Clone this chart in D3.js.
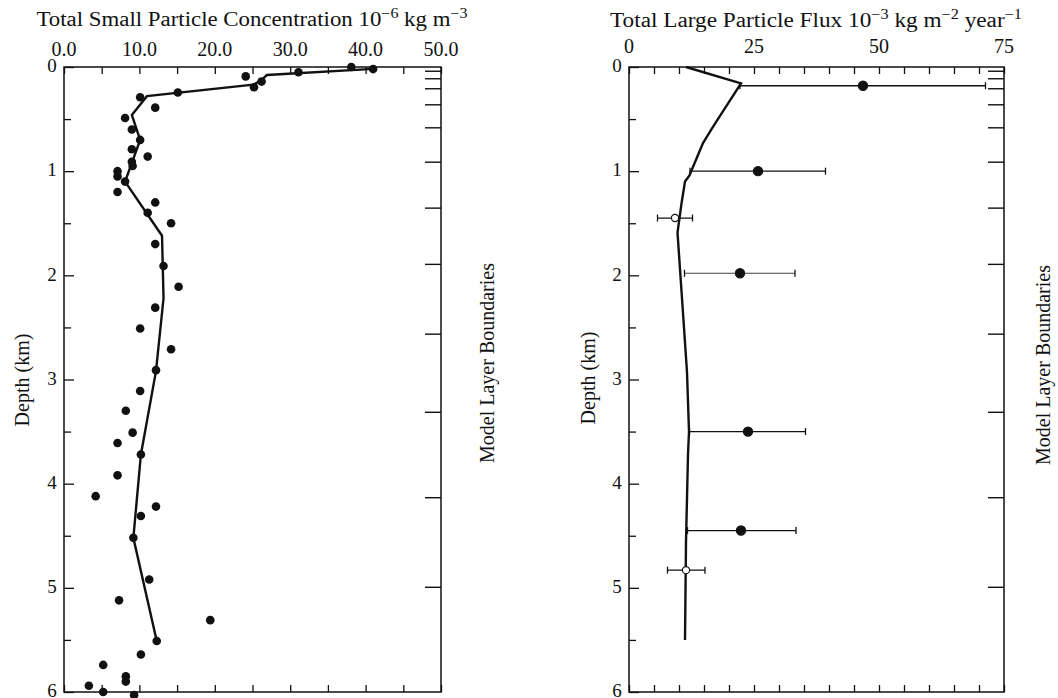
<!DOCTYPE html>
<html>
<head>
<meta charset="utf-8">
<script src="https://cdn.jsdelivr.net/npm/d3@7"></script>
<style>
  body { margin: 0; background: #fff; }
  text { font-family: "Liberation Serif", "Times New Roman", serif; fill: #111; }
</style>
</head>
<body>
<svg id="chart" width="1058" height="698"></svg>
<script>
// model layer boundaries (km), shared by both panels
var layerBounds = [0.036, 0.108, 0.204, 0.358, 0.579, 0.909, 1.35, 1.89, 2.56, 3.31, 4.13, 4.99];

// small particle concentration observations
var smallDepth = [0.0, 0.02, 0.05, 0.09, 0.14, 0.195, 0.245, 0.29, 0.39, 0.49, 0.60, 0.70, 0.79, 0.86,
  0.91, 0.95, 1.0, 1.05, 1.10, 1.20, 1.30, 1.40, 1.50, 1.70, 1.91, 2.11, 2.31, 2.51, 2.71, 2.91,
  3.11, 3.30, 3.51, 3.61, 3.72, 3.92, 4.12, 4.22, 4.31, 4.52, 4.92, 5.12, 5.31, 5.51, 5.64, 5.74,
  5.85, 5.90, 5.94, 6.0, 6.03];
var smallConc = [38.1, 41.0, 31.1, 24.1, 26.2, 25.2, 15.1, 10.1, 12.1, 8.1, 9.0, 10.1, 9.0, 11.1,
  9.0, 9.1, 7.1, 7.1, 8.1, 7.1, 12.1, 11.1, 14.2, 12.1, 13.2, 15.2, 12.1, 10.1, 14.2, 12.2,
  10.1, 8.2, 9.1, 7.1, 10.2, 7.1, 4.2, 12.2, 10.2, 9.2, 11.3, 7.3, 19.4, 12.3, 10.2, 5.2,
  8.2, 8.2, 3.3, 5.2, 9.3];

// small particle model profile
var smallModelDepth = [0.018, 0.077, 0.125, 0.17, 0.28, 0.46, 0.70, 1.10, 1.62, 2.22, 2.92, 3.72, 4.52, 5.51];
var smallModelConc = [41.0, 26.9, 26.2, 25.1, 11.0, 9.0, 10.1, 8.1, 13.0, 13.2, 12.2, 10.2, 9.2, 12.3];

// large particle flux model profile
var largeModelDepth = [0.0, 0.157, 0.47, 0.59, 0.73, 1.04, 1.10, 1.31, 1.59, 2.22, 2.93, 3.50, 3.72, 4.56, 5.5];
var largeModelFlux = [11.4, 22.4, 18.2, 16.6, 14.8, 12.1, 11.2, 10.5, 9.7, 10.6, 11.6, 12.0, 11.8, 11.4, 11.2];

// sediment trap fluxes with ranges
var fluxDepth = [0.18, 1.0, 1.45, 1.98, 3.5, 4.45, 4.83];
var fluxValue = [46.8, 25.8, 9.2, 22.2, 23.8, 22.4, 11.4];
var fluxLow = [22.2, 12.2, 5.7, 11.1, 12.1, 11.7, 7.7];
var fluxHigh = [71.3, 39.3, 12.7, 33.2, 35.3, 33.4, 15.2];
var fluxFilled = [true, true, false, true, true, true, false];

var depthTicks = [0, 1, 2, 3, 4, 5, 6];
var smallTicks = [0, 10, 20, 30, 40, 50];
var largeTicks = [0, 25, 50, 75];

var svg = d3.select("#chart");
var top0 = 67, bottom0 = 692;

function range(a, b, s) { return d3.range(a, b + s / 2, s); }

// draws frame, ticks and labels for one panel
function drawFrame(g, x, y, majors, minorStep, fmt, labelY, yLabelX) {
  var x0 = x.range()[0], x1 = x.range()[1];

  g.append("g")
    .attr("transform", "translate(0," + top0 + ")")
    .call(d3.axisTop(x).tickValues(range(x.domain()[0], x.domain()[1], minorStep)).tickSize(-7).tickFormat(""))
    .call(function(a) { a.select(".domain").remove(); a.selectAll("line").attr("stroke", "#111").attr("stroke-width", 1.3); });

  g.append("g")
    .attr("transform", "translate(0," + bottom0 + ")")
    .call(d3.axisBottom(x).tickValues(range(x.domain()[0], x.domain()[1], minorStep)).tickSize(-7).tickFormat(""))
    .call(function(a) { a.select(".domain").remove(); a.selectAll("line").attr("stroke", "#111").attr("stroke-width", 1.3); });

  // top tick labels
  g.selectAll(".xlab").data(majors).enter().append("text")
    .attr("class", "xlab")
    .attr("x", function(d) { return x(d); })
    .attr("y", labelY)
    .attr("text-anchor", "middle")
    .style("font-size", "20px")
    .text(fmt);

  // depth ticks, inward
  g.append("g")
    .attr("transform", "translate(" + x0 + ",0)")
    .call(d3.axisLeft(y).tickValues(range(0, 6, 0.5)).tickSize(-7).tickFormat(""))
    .call(function(a) {
      a.select(".domain").remove();
      a.selectAll("line").attr("stroke", "#111").attr("stroke-width", 1.3)
        .attr("x2", function(d) { return d % 1 === 0 ? 10 : 7; });
    });

  g.selectAll(".ylab").data(depthTicks).enter().append("text")
    .attr("class", "ylab")
    .attr("x", yLabelX)
    .attr("y", function(d) { return y(d); })
    .attr("dy", "0.28em")
    .attr("text-anchor", "middle")
    .style("font-size", "19px")
    .text(function(d) { return d; });

  // model layer boundaries on the right edge
  g.append("g")
    .attr("transform", "translate(" + x1 + ",0)")
    .call(d3.axisRight(y).tickValues(layerBounds).tickSize(-16).tickFormat(""))
    .call(function(a) { a.select(".domain").remove(); a.selectAll("line").attr("stroke", "#111").attr("stroke-width", 1.4); });

  g.append("rect")
    .attr("x", x0).attr("y", top0)
    .attr("width", x1 - x0).attr("height", bottom0 - top0)
    .attr("fill", "none").attr("stroke", "#111").attr("stroke-width", 1.5);
}

function title(g, cx, yy, width, parts) {
  var t = g.append("text")
    .attr("x", cx).attr("y", yy)
    .attr("text-anchor", "middle")
    .style("font-size", "20px");
  parts.forEach(function(p) {
    var s = t.append("tspan").text(p[0]);
    if (p[1] === "sup") s.attr("dy", -8).style("font-size", "14px");
    if (p[1] === "back") s.attr("dy", 8);
  });
  t.attr("textLength", width).attr("lengthAdjust", "spacingAndGlyphs");
}

function sideLabel(g, cx, cy, txt) {
  g.append("text")
    .attr("transform", "translate(" + cx + "," + cy + ") rotate(-90)")
    .attr("text-anchor", "middle")
    .attr("dy", "0.35em")
    .style("font-size", "20px")
    .text(txt);
}

// ---- left panel: small particles ----
var xSmall = d3.scaleLinear().domain([0, 50]).range([64, 441]);
var ySmall = d3.scaleLinear().domain([0, 6]).range([top0, bottom0]);
var left = svg.append("g");

drawFrame(left, xSmall, ySmall, smallTicks, 5, function(d) { return d3.format(".1f")(d); }, 56, 52);
title(left, 252, 26, 431, [["Total Small Particle Concentration 10"], ["\u22126", "sup"], [" kg m", "back"], ["\u22123", "sup"]]);
sideLabel(left, 22, 380, "Depth (km)");
sideLabel(left, 487, 363, "Model Layer Boundaries");

var smallLine = d3.line()
  .x(function(d, i) { return xSmall(smallModelConc[i]); })
  .y(function(d) { return ySmall(d); });

left.append("path")
  .datum(smallModelDepth)
  .attr("d", smallLine)
  .attr("fill", "none").attr("stroke", "#111").attr("stroke-width", 2.4);

left.selectAll(".obs").data(smallDepth).enter().append("circle")
  .attr("class", "obs")
  .attr("cx", function(d, i) { return xSmall(smallConc[i]); })
  .attr("cy", function(d) { return ySmall(d); })
  .attr("r", 4.3)
  .attr("fill", "#111");

// ---- right panel: large particle flux ----
var xLarge = d3.scaleLinear().domain([0, 75]).range([629, 1004]);
var yLarge = d3.scaleLinear().domain([0, 6]).range([top0, bottom0]);
var right = svg.append("g");

drawFrame(right, xLarge, yLarge, largeTicks, 5, function(d) { return d; }, 53, 617);
title(right, 816, 27, 412, [["Total Large Particle Flux 10"], ["\u22123", "sup"], [" kg m", "back"], ["\u22122", "sup"], [" year", "back"], ["\u22121", "sup"]]);
sideLabel(right, 588, 378, "Depth (km)");
sideLabel(right, 1043, 365, "Model Layer Boundaries");

var largeLine = d3.line()
  .x(function(d, i) { return xLarge(largeModelFlux[i]); })
  .y(function(d) { return yLarge(d); });

right.append("path")
  .datum(largeModelDepth)
  .attr("d", largeLine)
  .attr("fill", "none").attr("stroke", "#111").attr("stroke-width", 2.4);

var bars = right.selectAll(".bar").data(fluxDepth).enter().append("g").attr("class", "bar");
bars.append("line")
  .attr("x1", function(d, i) { return xLarge(fluxLow[i]); })
  .attr("x2", function(d, i) { return xLarge(fluxHigh[i]); })
  .attr("y1", function(d) { return yLarge(d); })
  .attr("y2", function(d) { return yLarge(d); })
  .attr("stroke", "#111").attr("stroke-width", function(d) { return d === 1.98 ? 0.8 : 1.3; });
[fluxLow, fluxHigh].forEach(function(arr) {
  bars.append("line")
    .attr("x1", function(d, i) { return xLarge(arr[i]); })
    .attr("x2", function(d, i) { return xLarge(arr[i]); })
    .attr("y1", function(d) { return yLarge(d) - 3.5; })
    .attr("y2", function(d) { return yLarge(d) + 3.5; })
    .attr("stroke", "#111").attr("stroke-width", 1.3);
});
bars.append("circle")
  .attr("cx", function(d, i) { return xLarge(fluxValue[i]); })
  .attr("cy", function(d) { return yLarge(d); })
  .attr("r", function(d, i) { return fluxFilled[i] ? 4.6 : 3.6; })
  .attr("fill", function(d, i) { return fluxFilled[i] ? "#111" : "#fff"; })
  .attr("stroke", "#111").attr("stroke-width", 1.2);
</script>
</body>
</html>
